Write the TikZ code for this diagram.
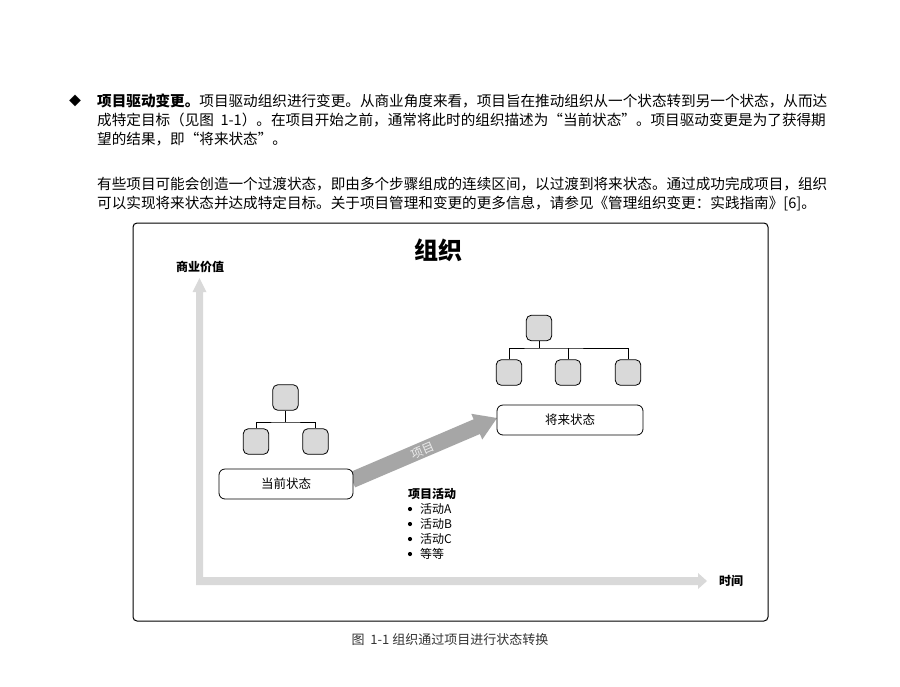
\documentclass[tikz,border=0pt]{standalone}
\usepackage{fontspec}
\setmainfont{Noto Sans CJK SC}
\usetikzlibrary{calc}
\definecolor{boxgray}{HTML}{D9D9D9}
\definecolor{axisgray}{HTML}{D9D9D9}
\definecolor{arrowgray}{HTML}{A6A6A6}
\definecolor{capgray}{HTML}{333333}
\begin{document}
\begin{tikzpicture}[x=1pt,y=-1pt,
  bodytext/.style={anchor=west, inner sep=0pt, font=\fontsize{14.6}{17}\selectfont},
  orgbox/.style={draw, line width=0.8pt, rounded corners=5pt, fill=boxgray, minimum width=25.5pt, minimum height=25.5pt, inner sep=0pt},
  statebox/.style={draw, line width=0.8pt, rounded corners=6pt, minimum height=30pt, inner sep=0pt, font=\fontsize{12.5}{14}\selectfont},
  orgline/.style={line width=0.8pt},
  smalltext/.style={anchor=west, inner sep=0pt, font=\fontsize{12}{14}\selectfont},
  bulletdot/.style={circle, fill=black, inner sep=0pt, minimum size=4.2pt}
]
\useasboundingbox (0,0) rectangle (900,686);
\fill[white] (0,0) rectangle (900,686);

% body text
\node[inner sep=0pt, font=\fontsize{12}{14}\selectfont] (dia) at (75,101) {◆};
\node[bodytext] (l1) at (97,101) {{\bfseries 项目驱动变更。}项目驱动组织进行变更。从商业角度来看，项目旨在推动组织从一个状态转到另一个状态，从而达};
\node[bodytext] (l2) at (97,120) {成特定目标（见图\ \ 1-1）。在项目开始之前，通常将此时的组织描述为“当前状态”。项目驱动变更是为了获得期};
\node[bodytext] (l3) at (97,139) {望的结果，即“将来状态”。};
\node[bodytext] (p1) at (97,184) {有些项目可能会创造一个过渡状态，即由多个步骤组成的连续区间，以过渡到将来状态。通过成功完成项目，组织};
\node[bodytext] (p2) at (97,204) {可以实现将来状态并达成特定目标。关于项目管理和变更的更多信息，请参见《管理组织变更：实践指南》[6]。};

% frame
\draw[line width=1pt, rounded corners=4pt] (133,223) rectangle (768,621);
\node[font=\fontsize{24}{28}\bfseries\selectfont, inner sep=0pt] (title) at (438,250) {组织};

% axes
\fill[axisgray] (196,585) -- (196,292) -- (192.5,292) -- (199.5,278) -- (206.5,292) -- (203,292)
  -- (203,577) -- (698,577) -- (698,573) -- (707,581) -- (698,589) -- (698,585) -- cycle;
\node[font=\fontsize{12}{14}\bfseries\selectfont, inner sep=0pt] (yl) at (200,267) {商业价值};
\node[font=\fontsize{12}{14}\bfseries\selectfont, inner sep=0pt] (xl) at (731,581) {时间};

% big arrow
\coordinate (as) at (352,480);
\coordinate (at) at (497,418);
\coordinate (hb) at ($(at)!22pt!(as)$);
\fill[arrowgray] ($(as)!8pt!-90:(at)$) -- ($(hb)!8pt!-90:(at)$) -- ($(hb)!14pt!-90:(at)$) -- (at)
  -- ($(hb)!14pt!90:(at)$) -- ($(hb)!8pt!90:(at)$) -- ($(as)!8pt!90:(at)$) -- cycle;
\node[font=\fontsize{12}{14}\selectfont, text=white!92!black, rotate=23.3, inner sep=0pt] (arrlbl) at (423,451) {项目};

% left org chart
\node[orgbox] (lt) at (285.5,397.5) {};
\node[orgbox] (lc1) at (256,441.5) {};
\node[orgbox] (lc2) at (315.5,441.5) {};
\coordinate (lj) at (285.5,422);
\draw[orgline] (lt.south) -- (lj);
\draw[orgline] (lc1.north) |- (lj) -| (lc2.north);
\node[statebox, fill=white, minimum width=134pt] (cur) at (286,484) {当前状态};

% right org chart
\node[orgbox] (rt) at (539,328) {};
\node[orgbox] (rc1) at (509,372.5) {};
\node[orgbox] (rc2) at (568,372.5) {};
\node[orgbox] (rc3) at (628,372.5) {};
\coordinate (rj) at (539,348);
\draw[orgline] (rt.south) -- (rj);
\draw[orgline] (rc1.north) |- (rj) -| (rc3.north);
\draw[orgline] (rc2.north) -- (rc2.north |- rj);
\node[statebox, fill=white, minimum width=146pt] (fut) at (570,420) {将来状态};

% activities
\node[font=\fontsize{12}{14}\bfseries\selectfont, anchor=west, inner sep=0pt] (act) at (408,494) {项目活动};
\foreach \t/\yy/\n in {活动A/509/a,活动B/524/b,活动C/539/c,等等/554/d}{
  \node[bulletdot] (bul\n) at (410,\yy) {};
  \node[smalltext] (it\n) at (420,\yy) {\t};
}

% caption
\node[font=\fontsize{13}{15}\selectfont, text=capgray, inner sep=0pt] (cap) at (450,640) {图\ \ 1-1 组织通过项目进行状态转换};
\end{tikzpicture}
\end{document}
